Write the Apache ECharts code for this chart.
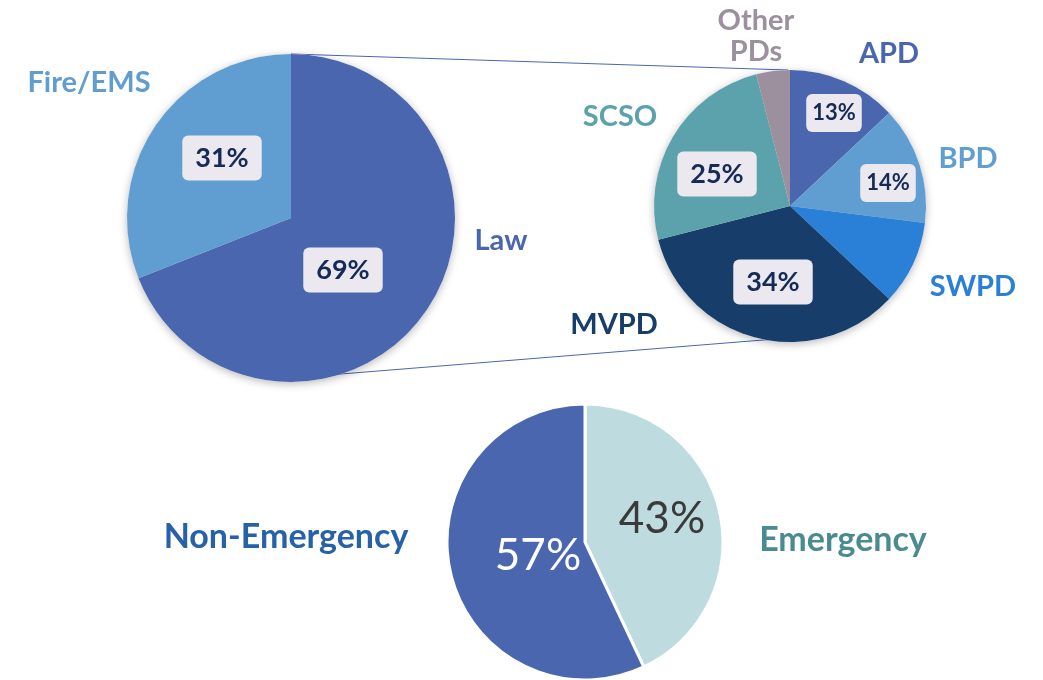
<!DOCTYPE html>
<html>
<head>
<meta charset="utf-8">
<script src="https://cdn.jsdelivr.net/npm/echarts@6/dist/echarts.min.js"></script>
<style>
html, body { margin: 0; padding: 0; background: #fff; }
#main { width: 1043px; height: 680px; }
</style>
</head>
<body>
<div id="main"></div>
<script>
// call type split
var typeNames = ['Law', 'Fire/EMS'];
var typeValues = [69, 31];

// law calls by agency
var agencyNames = ['APD', 'BPD', 'SWPD', 'MVPD', 'SCSO', 'Other PDs'];
var agencyValues = [13, 14, 10, 34, 25, 4];

// priority split
var priorityNames = ['Emergency', 'Non-Emergency'];
var priorityValues = [43, 57];

var typeColors = ['#4a66ae', '#609dd0'];
var agencyColors = ['#4a66ae', '#609dd0', '#2a7fd6', '#173e6a', '#5ca2ad', '#9c909e'];
var priorityColors = ['#bedcdf', '#4a66ae'];
var priorityNameColors = ['#4a8b8f', '#2761a7'];
var priorityPctColors = ['#3a3a3a', '#ffffff'];

// where the labels sit
var typeNamePos = [[501, 241], [89, 83]];
var typePctPos = [[343, 270], [222, 158]];
var agencyNamePos = [[889, 54], [968, 159], [973, 287], [614, 325], [620, 117], [756, 36]];
var agencyPctPos = [[834, 113], [888, 183], null, [773, 282], [717, 174], null];
var priorityNamePos = [[843, 540], [286, 537]];
var priorityPctPos = [[662, 519], [538, 556]];

var FONT = 'Lato';

function placeAt(list) {
    return function (p) {
        var pos = list[p.dataIndex];
        if (!pos) return {};
        return { x: pos[0], y: pos[1], align: 'center', verticalAlign: 'middle' };
    };
}

// under-layer: white disc with shadow + the category names
function nameSeries(names, values, textColors, center, radius, namePos, shadow, fontSize) {
    var data = [];
    for (var i = 0; i < names.length; i++) {
        data.push({
            name: names[i],
            value: values[i],
            label: { color: textColors[i] }
        });
    }
    return {
        type: 'pie',
        center: center,
        radius: radius,
        silent: true,
        avoidLabelOverlap: false,
        itemStyle: shadow ? {
            color: '#fff',
            shadowBlur: 8,
            shadowOffsetY: 2,
            shadowColor: 'rgba(0,0,0,0.28)'
        } : { color: 'transparent' },
        label: {
            show: true,
            position: 'center',
            overflow: 'none',
            fontFamily: FONT,
            fontWeight: 'bold',
            fontSize: fontSize,
            lineHeight: 31,
            formatter: function (p) { return p.name.replace(' ', '\n'); }
        },
        labelLine: { show: false },
        labelLayout: placeAt(namePos),
        emphasis: { disabled: true },
        data: data
    };
}

// top layer: coloured slices + percentage boxes
function sliceSeries(names, values, colors, center, radius, pctPos) {
    var data = [];
    for (var i = 0; i < names.length; i++) {
        var small = values[i] < 20;
        data.push({
            name: names[i],
            value: values[i],
            itemStyle: { color: colors[i] },
            label: {
                show: !!pctPos[i],
                fontSize: small ? 22 : 27,
                padding: small ? [8, 6] : [9, 13]
            }
        });
    }
    return {
        type: 'pie',
        center: center,
        radius: radius,
        silent: true,
        avoidLabelOverlap: false,
        label: {
            position: 'center',
            formatter: '{c}%',
            fontFamily: FONT,
            fontWeight: 'bold',
            color: '#152a55',
            backgroundColor: '#ebe9ef',
            borderRadius: 6
        },
        labelLine: { show: false },
        labelLayout: placeAt(pctPos),
        emphasis: { disabled: true },
        data: data
    };
}

function prioritySeries() {
    var data = [];
    for (var i = 0; i < priorityNames.length; i++) {
        data.push({
            name: priorityNames[i],
            value: priorityValues[i],
            itemStyle: { color: priorityColors[i] },
            label: { color: priorityPctColors[i] }
        });
    }
    return {
        type: 'pie',
        center: [585, 542],
        radius: 138,
        silent: true,
        avoidLabelOverlap: false,
        itemStyle: { borderColor: '#fff', borderWidth: 3 },
        label: {
            show: true,
            position: 'center',
            formatter: '{c}%',
            fontFamily: FONT,
            fontSize: 44
        },
        labelLine: { show: false },
        labelLayout: placeAt(priorityPctPos),
        emphasis: { disabled: true },
        data: data
    };
}

var myChart = echarts.init(document.getElementById('main'));

var option = {
    animation: false,
    graphic: [
        {
            type: 'line',
            z: 0,
            shape: { x1: 291, y1: 54, x2: 788, y2: 70 },
            style: { stroke: '#4a66ae', lineWidth: 1 }
        },
        {
            type: 'line',
            z: 0,
            shape: { x1: 291, y1: 378, x2: 788, y2: 338 },
            style: { stroke: '#4a66ae', lineWidth: 1 }
        }
    ],
    series: [
        nameSeries(typeNames, typeValues, typeColors, [291, 218], 164, typeNamePos, true, 29),
        sliceSeries(typeNames, typeValues, typeColors, [291, 218], 164, typePctPos),
        nameSeries(agencyNames, agencyValues, agencyColors, [790, 206], 136, agencyNamePos, true, 29),
        sliceSeries(agencyNames, agencyValues, agencyColors, [790, 206], 136, agencyPctPos),
        nameSeries(priorityNames, priorityValues, priorityNameColors, [585, 542], 138, priorityNamePos, false, 34),
        prioritySeries()
    ]
};

myChart.setOption(option);
</script>
</body>
</html>
